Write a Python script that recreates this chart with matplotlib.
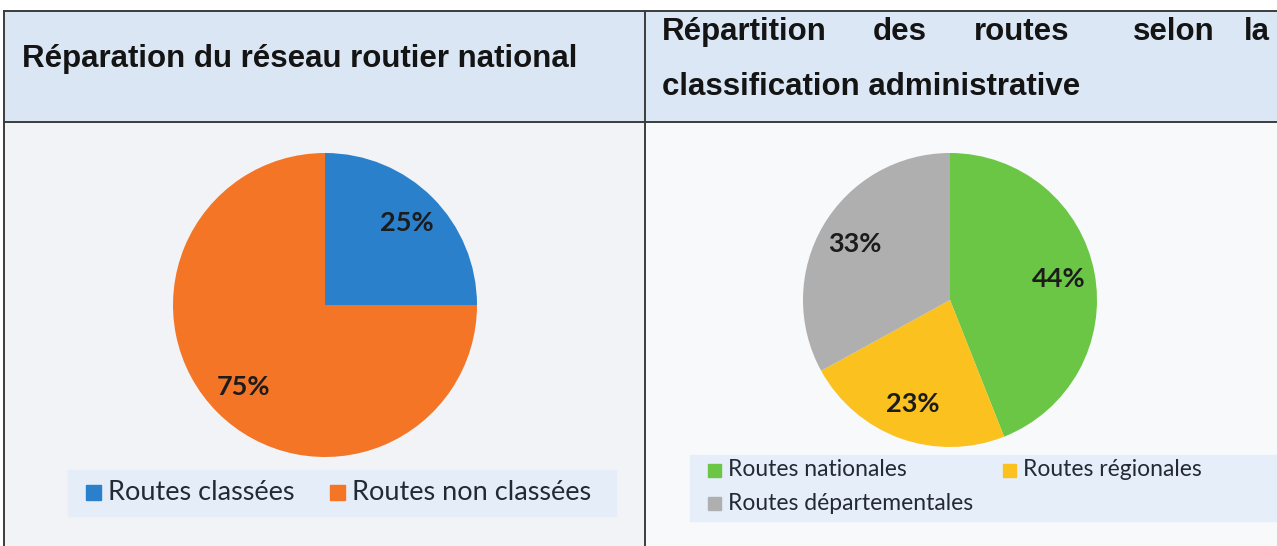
import matplotlib.pyplot as plt
from matplotlib.patches import Rectangle

# ---------------------------
# Data
# ---------------------------
title_left = "Réparation du réseau routier national"
title_right_1 = ["Répartition", "des", "routes", "selon", "la"]
title_right_2 = "classification administrative"

left_labels = ["Routes classées", "Routes non classées"]
left_values = [25, 75]
left_colors = ["#2b80cc", "#f47525"]

right_labels = ["Routes nationales", "Routes régionales", "Routes départementales"]
right_values = [44, 23, 33]
right_colors = ["#6cc645", "#fbc11e", "#afafaf"]

W, H = 1277, 546

fig = plt.figure(figsize=(W / 100, H / 100), dpi=100)
fig.patch.set_facecolor("white")

# background axes in pixel coordinates
bg = fig.add_axes([0, 0, 1, 1])
bg.set_xlim(0, W)
bg.set_ylim(H, 0)
bg.axis("off")

# ---------------------------
# Table cells
# ---------------------------
bg.add_patch(Rectangle((4, 11), 641, 111, color="#dae6f4", zorder=0))
bg.add_patch(Rectangle((645, 11), W - 645, 111, color="#dce7f5", zorder=0))
bg.add_patch(Rectangle((4, 122), 641, H - 122, color="#f1f3f6", zorder=0))
bg.add_patch(Rectangle((645, 122), W - 645, H - 122, color="#f8f9fb", zorder=0))
# legend bands
bg.add_patch(Rectangle((68, 470), 548, 46, color="#e4edf8", zorder=1))
bg.add_patch(Rectangle((690, 455), W - 690, 66, color="#e6eef9", zorder=1))

line_kw = dict(color="#3c3c3c", lw=1.4, zorder=3)
bg.plot([4, W], [11, 11], **line_kw)
bg.plot([4, W], [122, 122], **line_kw)
bg.plot([4, 4], [11, H], **line_kw)
bg.plot([645, 645], [11, H], **line_kw)

# ---------------------------
# Titles
# ---------------------------
title_kw = dict(family="Liberation Sans", weight="bold", fontsize=22.5,
                color="#141414", va="center", zorder=4)
bg.text(22, 59, title_left, ha="left", **title_kw)

# first line of the right title is justified across the cell
word_x = [662, 873, 974, 1133, 1270]
for i, w in enumerate(title_right_1):
    ha = "right" if i == len(title_right_1) - 1 else "left"
    bg.text(word_x[i], 32, w, ha=ha, **title_kw)
bg.text(662, 87, title_right_2, ha="left", **title_kw)


# ---------------------------
# Pies
# ---------------------------
def pie_axes(cx, cy, r):
    ax = fig.add_axes([(cx - r) / W, 1 - (cy + r) / H, 2 * r / W, 2 * r / H])
    return ax


pct_kw = dict(family="Lato", weight="bold", fontsize=19.5, color="#1c1c1c")

ax1 = pie_axes(325, 305, 152)
ax1.pie(left_values, colors=left_colors, startangle=90, counterclock=False,
        autopct="%d%%", pctdistance=0.76, textprops=pct_kw)
ax1.set_xlim(-1, 1)
ax1.set_ylim(-1, 1)
ax1.axis("off")

ax2 = pie_axes(950, 300, 147)
ax2.pie(right_values, colors=right_colors, startangle=90, counterclock=False,
        autopct="%d%%", pctdistance=0.75, textprops=pct_kw)
ax2.set_xlim(-1, 1)
ax2.set_ylim(-1, 1)
ax2.axis("off")

# ---------------------------
# Legends (drawn manually to match the layout)
# ---------------------------
leg_kw = dict(family="Lato", fontsize=19.5, color="#232a35", va="center", zorder=4)


def legend_item(x, y, color, label, size):
    bg.add_patch(Rectangle((x, y - size / 2), size, size, color=color, zorder=4))
    bg.text(x + size + 7, y, label, **leg_kw)


legend_item(86, 492, left_colors[0], left_labels[0], 15)
legend_item(330, 492, left_colors[1], left_labels[1], 15)

leg_kw["fontsize"] = 16.5
legend_item(708, 470, right_colors[0], right_labels[0], 13)
legend_item(1003, 470, right_colors[1], right_labels[1], 13)
legend_item(708, 503, right_colors[2], right_labels[2], 13)

fig.savefig("out.png", dpi=100)
